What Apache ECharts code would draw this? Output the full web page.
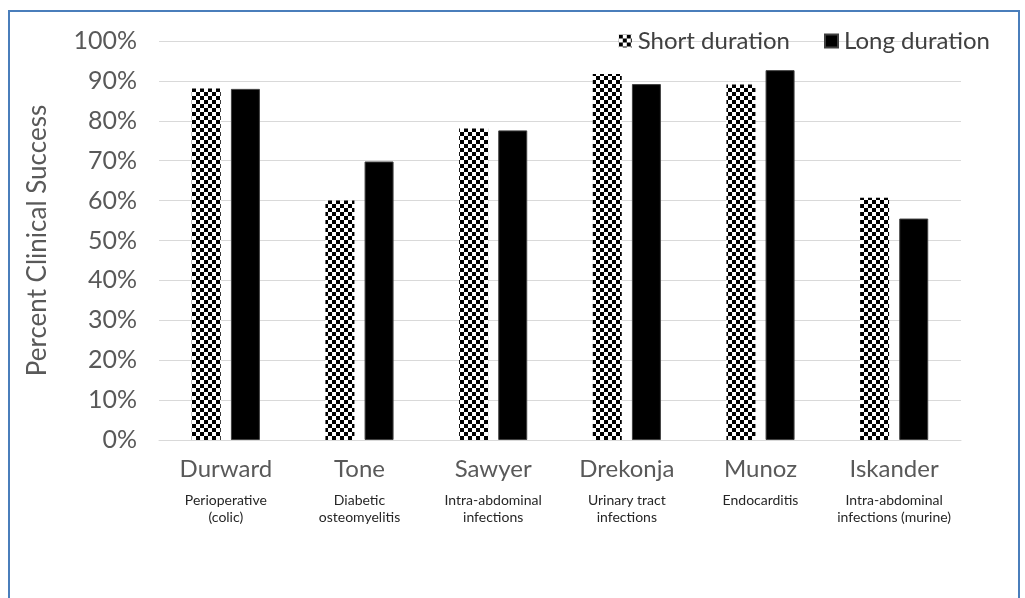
<!DOCTYPE html>
<html>
<head>
<meta charset="utf-8">
<script src="https://cdn.jsdelivr.net/npm/echarts@6/dist/echarts.min.js"></script>
<style>
html,body{margin:0;padding:0;background:#fff;}
#frame{position:absolute;left:8px;top:10px;width:1012px;height:600px;border:2px solid #4a7ebb;border-bottom:none;box-sizing:border-box;}
#chart{position:absolute;left:0;top:0;width:1025px;height:598px;}
</style>
</head>
<body>
<div id="frame"></div>
<div id="chart"></div>
<script>
const authors = ['Durward','Tone','Sawyer','Drekonja','Munoz','Iskander'];
const settings = ['Perioperative\n(colic)','Diabetic\nosteomyelitis','Intra-abdominal\ninfections','Urinary tract\ninfections','Endocarditis','Intra-abdominal\ninfections (murine)'];
const shortDuration = [88.1, 60.0, 78.1, 91.7, 89.1, 60.7];
const longDuration = [88.0, 69.8, 77.6, 89.2, 92.7, 55.5];
const yTicks = [0,10,20,30,40,50,60,70,80,90,100];

const cv = document.createElement('canvas');
cv.width = 8; cv.height = 8;
const cx = cv.getContext('2d');
cx.fillStyle = '#fff'; cx.fillRect(0,0,8,8);
cx.fillStyle = '#000'; cx.fillRect(0,0,4,4); cx.fillRect(4,4,4,4);
const checker = {image: cv, repeat: 'repeat'};

const chart = echarts.init(document.getElementById('chart'));
const font = 'Lato, "Open Sans", sans-serif';
chart.setOption({
  animation: false,
  textStyle: {fontFamily: font},
  legend: {
    top: 24, right: 30, itemGap: 34, itemWidth: 13, itemHeight: 13,
    textStyle: {fontSize: 24, color: '#404040', fontFamily: font, padding: [0,0,0,1]},
    data: [{name:'Short duration', icon:'rect'}, {name:'Long duration', icon:'rect'}]
  },
  grid: {left: 159, right: 64, top: 41, bottom: 158, containLabel: false},
  xAxis: {
    type: 'category',
    data: authors.map((a,i)=>a+'|'+i),
    axisLine: {lineStyle: {color: '#d9d9d9', width: 1}},
    axisTick: {show: false},
    axisLabel: {
      interval: 0, margin: 18,
      formatter: v => { const i = +v.split('|')[1]; return '{a|' + authors[i] + '}\n{b|' + settings[i].split('\n').join('}\n{b|') + '}'; },
      rich: {
        a: {fontSize: 24, color: '#595959', lineHeight: 34, fontFamily: font, padding:[0,0,12,0]},
        b: {fontSize: 14, color: '#262626', lineHeight: 17, fontFamily: font}
      }
    }
  },
  yAxis: {
    type: 'value', min: 0, max: 100, interval: 10,
    name: 'Percent Clinical Success', nameLocation: 'middle', nameGap: 108,
    nameTextStyle: {fontSize: 26, color: '#595959', fontFamily: font},
    axisLine: {show: false}, axisTick: {show: false},
    axisLabel: {fontSize: 25, color: '#595959', margin: 22, fontFamily: font,
      formatter: v => yTicks.includes(v) ? v + '%' : ''},
    splitLine: {lineStyle: {color: '#d9d9d9', width: 1}}
  },
  series: [
    {name: 'Short duration', type: 'bar', data: shortDuration, barWidth: 29, barGap: '35%',
      itemStyle: {color: checker}},
    {name: 'Long duration', type: 'bar', data: longDuration, barWidth: 29,
      itemStyle: {color: '#000', borderColor: '#404040', borderWidth: 1}}
  ]
});
</script>
</body>
</html>
